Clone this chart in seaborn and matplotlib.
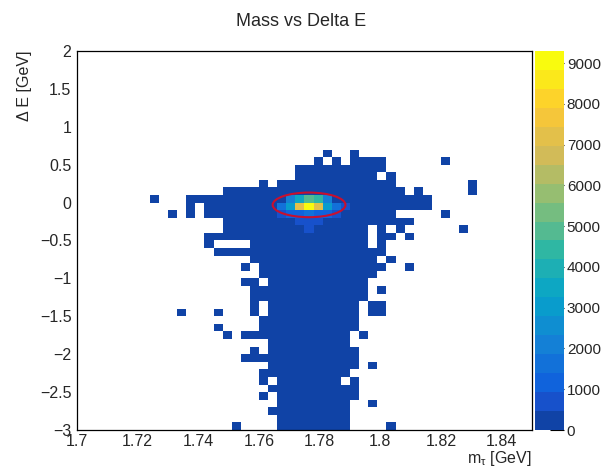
import numpy as np
import pandas as pd
import matplotlib
matplotlib.use("Agg")
import matplotlib.pyplot as plt
import seaborn as sns
from matplotlib.colors import ListedColormap, LinearSegmentedColormap
from matplotlib.patches import Ellipse
from matplotlib.ticker import MultipleLocator, FuncFormatter

# histogram binning (50 x 50 bins)
x_edges = np.linspace(1.7, 1.85, 51)
y_edges = np.linspace(-3.0, 2.0, 51)
z_max = 9300

# occupied bins: row counted from the top (dE = 2 at row 0),
# each run is (first column, last column), column 0 starts at m = 1.7
filled_runs = {
    13: [(27, 27), (30, 30)],
    14: [(26, 26), (28, 28), (30, 33), (40, 40)],
    15: [(24, 33)],
    16: [(24, 32), (34, 34)],
    17: [(20, 20), (22, 34), (43, 43)],
    18: [(16, 35), (37, 37), (43, 43)],
    19: [(8, 8), (12, 38)],
    20: [(12, 12), (14, 38)],
    21: [(10, 10), (12, 12), (14, 34), (40, 40)],
    22: [(16, 36)],
    23: [(16, 31), (33, 33), (35, 35), (42, 42)],
    24: [(14, 31), (33, 34), (36, 36)],
    25: [(14, 14), (19, 31), (33, 33)],
    26: [(15, 33)],
    27: [(19, 32), (34, 34)],
    28: [(18, 18), (20, 33), (36, 36)],
    29: [(20, 32)],
    30: [(18, 19), (21, 31)],
    31: [(19, 31), (33, 33)],
    32: [(19, 31)],
    33: [(19, 19), (21, 30), (32, 33)],
    34: [(11, 11), (15, 15), (19, 19), (21, 30), (32, 33)],
    35: [(20, 30)],
    36: [(15, 15), (20, 30)],
    37: [(16, 16), (18, 29), (31, 31)],
    38: [(21, 29)],
    39: [(19, 19), (21, 30)],
    40: [(18, 30)],
    41: [(21, 30), (32, 32)],
    42: [(20, 29)],
    43: [(20, 20), (22, 28), (30, 30)],
    44: [(21, 30)],
    45: [(20, 20), (22, 30)],
    46: [(22, 29), (32, 32)],
    47: [(21, 29)],
    48: [(22, 29)],
    49: [(17, 17), (22, 29), (34, 34)],
}
base_entries = 40

# bins around the peak that stand out from the lowest colour band
hot_rows = [19, 19, 19, 19, 19,
            20, 20, 20, 20, 20, 20, 20, 20,
            21, 21, 21, 21, 21, 21, 21,
            22, 22, 22,
            23]
hot_cols = [23, 24, 25, 26, 27,
            22, 23, 24, 25, 26, 27, 28, 29,
            22, 23, 24, 25, 26, 27, 28,
            24, 25, 26,
            25]
hot_entries = [2300, 3700, 5000, 4600, 2200,
               1400, 3000, 7400, 9300, 7300, 3000, 1500, 600,
               700, 1200, 1300, 1400, 1300, 1100, 700,
               800, 900, 800,
               700]

# ROOT kBird palette, 20 contour levels
bird_stops = [0.0, 0.125, 0.25, 0.375, 0.5, 0.625, 0.75, 0.875, 1.0]
bird_red = [0.2082, 0.0592, 0.0780, 0.0232, 0.1802, 0.5301, 0.8186, 0.9956, 0.9764]
bird_green = [0.1664, 0.3599, 0.5041, 0.6419, 0.7178, 0.7492, 0.7328, 0.7862, 0.9832]
bird_blue = [0.5293, 0.8684, 0.8385, 0.7914, 0.6425, 0.4662, 0.3499, 0.1968, 0.0539]
n_levels = 20
lowest_band = "#1043a6"   # lowest band as it shows in the picture

bird = LinearSegmentedColormap.from_list(
    "bird", list(zip(bird_stops, zip(bird_red, bird_green, bird_blue))))
level_t = [np.floor((k + 0.99) * 255 / n_levels) / 254 for k in range(n_levels)]
level_colors = [bird(t) for t in level_t]
level_colors[0] = lowest_band
bird_levels = ListedColormap(level_colors)

# build the table of bins
records = []
for row, runs in filled_runs.items():
    for first, last in runs:
        for col in range(first, last + 1):
            records.append((row, col, base_entries))
cells = pd.DataFrame(records, columns=["row", "col", "entries"])
for row, col, n in zip(hot_rows, hot_cols, hot_entries):
    cells.loc[(cells["row"] == row) & (cells["col"] == col), "entries"] = n

top_edges = y_edges[::-1]
cells["m_tau"] = (x_edges[cells["col"]] + x_edges[cells["col"] + 1]) / 2
cells["delta_e"] = (top_edges[cells["row"]] + top_edges[cells["row"] + 1]) / 2

sns.set_style("white")
plt.rcParams["font.family"] = ["Liberation Sans", "DejaVu Sans"]
plt.rcParams["mathtext.fontset"] = "custom"
plt.rcParams["mathtext.rm"] = "Liberation Sans"
plt.rcParams["mathtext.it"] = "Liberation Sans:italic"

W, H = 603, 467
fig = plt.figure(figsize=(W / 100, H / 100), dpi=100)
ax = fig.add_axes([77 / W, 1 - 430 / H, 455 / W, 379 / H])
cax = fig.add_axes([535 / W, 1 - 430 / H, 29 / W, 379 / H])

sns.histplot(data=cells, x="m_tau", y="delta_e", weights="entries",
             bins=(x_edges, y_edges), cmap=bird_levels, vmin=0, vmax=z_max,
             cbar=True, cbar_ax=cax, ax=ax)

ax.add_patch(Ellipse((1.7765, -0.03), 0.024, 0.325, fill=False,
                     edgecolor="#c8102e", linewidth=1.5))

ax.set_xlim(1.7, 1.85)
ax.set_ylim(-3, 2)
for s in ax.spines.values():
    s.set_visible(True)
    s.set_color("black")
    s.set_linewidth(0.9)

fmt = FuncFormatter(lambda v, p: f"{v:g}".replace("-", "\u2212"))
ax.xaxis.set_major_locator(MultipleLocator(0.02))
ax.xaxis.set_minor_locator(MultipleLocator(0.005))
ax.yaxis.set_major_locator(MultipleLocator(0.5))
ax.yaxis.set_minor_locator(MultipleLocator(0.1))
ax.xaxis.set_major_formatter(fmt)
ax.yaxis.set_major_formatter(fmt)
ax.tick_params(which="both", direction="in", top=False, right=False,
               color="black", width=0.8, labelsize=11.5)
ax.tick_params(which="major", length=7)
ax.tick_params(which="minor", length=3.5)
ax.tick_params(axis="x", pad=3)
ax.tick_params(axis="y", pad=4)

ax.set_xlabel(r"m$_{\mathrm{\tau}}$ [GeV]", fontsize=11.5, loc="right")
ax.set_ylabel("\u0394 E [GeV]", fontsize=11.5, loc="top")
ax.xaxis.set_label_coords(1.0, -0.05)
ax.yaxis.set_label_coords(-0.099, 1.0)

fig.text(0.5, 1 - 21 / H, "Mass vs Delta E", ha="center", va="center", fontsize=13)

cbar = ax.collections[0].colorbar
cbar.outline.set_visible(False)
cbar.set_ticks(np.arange(0, 9001, 1000))
cbar.ax.yaxis.set_major_formatter(FuncFormatter(lambda v, p: f"{v:g}"))
cbar.ax.tick_params(direction="in", length=10, width=0.8, color="black",
                    labelsize=11, pad=2, right=True, left=False)
cbar.ax.minorticks_off()

fig.savefig("out.png", dpi=100)
